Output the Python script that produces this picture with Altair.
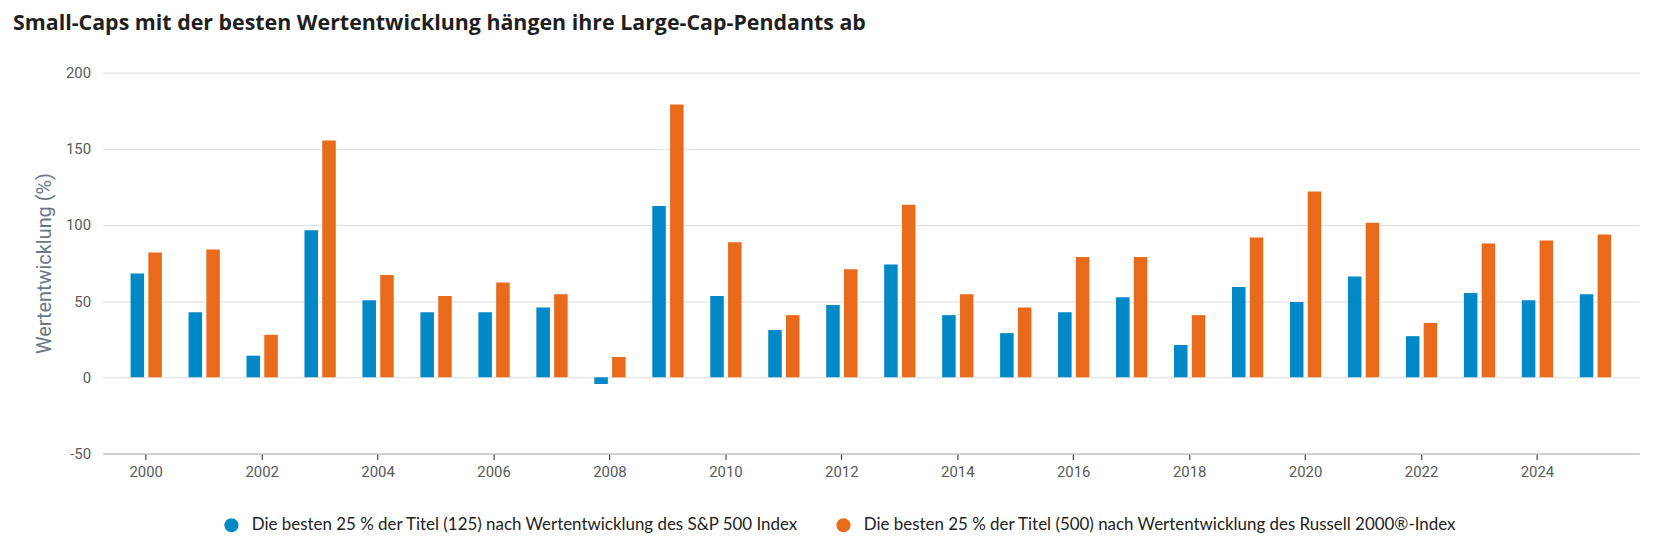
import altair as alt
import pandas as pd

years = list(range(2000, 2026))
sp500 = [68.2, 42.7, 14.2, 96.5, 50.6, 42.7, 42.7, 45.8, -4.4, 112.4, 53.4, 31.0, 47.5,
         74.1, 40.8, 29.0, 42.7, 52.5, 21.2, 59.3, 49.5, 66.2, 27.0, 55.4, 50.6, 54.5]
russell = [82.0, 83.9, 27.9, 155.4, 67.1, 53.4, 62.3, 54.5, 13.3, 179.1, 88.7, 40.8, 71.0,
           113.3, 54.5, 45.8, 78.9, 78.9, 40.8, 91.8, 122.0, 101.5, 35.7, 87.8, 89.8, 93.7]
series_names = [
    "Die besten 25 % der Titel (125) nach Wertentwicklung des S&P 500 Index",
    "Die besten 25 % der Titel (500) nach Wertentwicklung des Russell 2000®-Index",
]
colors = ["#0088c7", "#ea6a1b"]
tick_years = list(range(2000, 2025, 2))
y_ticks = [-50, 0, 50, 100, 150, 200]
title_text = "Small-Caps mit der besten Wertentwicklung hängen ihre Large-Cap-Pendants ab"
y_title = "Wertentwicklung (%)"

rows = []
for i, yr in enumerate(years):
    rows.append({"Jahr": yr, "Serie": series_names[0], "Wert": sp500[i]})
    rows.append({"Jahr": yr, "Serie": series_names[1], "Wert": russell[i]})
df = pd.DataFrame(rows)

W, H = 1544, 382.6

chart = alt.Chart(df).mark_bar().encode(
    x=alt.X(
        "Jahr:O",
        scale=alt.Scale(paddingInner=0.46, paddingOuter=0.4835),
        axis=alt.Axis(
            values=tick_years, labelAngle=0, title=None, grid=False,
            domainColor="#c4c4c4", domainWidth=1.5,
            tickColor="#444444", tickSize=6, tickWidth=1.2,
            labelFont="Roboto", labelFontSize=15, labelColor="#5a5a5a", labelPadding=5,
        ),
    ),
    xOffset=alt.XOffset("Serie:N", sort=series_names,
                        scale=alt.Scale(paddingInner=0.24, paddingOuter=0)),
    y=alt.Y(
        "Wert:Q",
        scale=alt.Scale(domain=[-50, 200], nice=False),
        axis=alt.Axis(
            values=y_ticks, title=y_title, domain=False, ticks=False,
            labelExpr="'' + datum.value",
            grid=True, gridColor="#dedede", gridWidth=1,
            labelFont="Roboto", labelFontSize=15, labelColor="#5a5a5a", labelPadding=12,
            titleFont="Roboto", titleFontSize=20, titleFontWeight="normal",
            titleColor="#6a7886", titleX=-58, titleY=H / 2, titleAngle=270,
            titleAlign="center", titleBaseline="middle",
        ),
    ),
    color=alt.Color(
        "Serie:N",
        scale=alt.Scale(domain=series_names, range=colors),
        legend=alt.Legend(
            title=None, orient="none", legendX=121, legendY=446, direction="horizontal",
            symbolType="circle", symbolSize=200, symbolStrokeWidth=0,
            labelFont="Lato", labelFontSize=17, labelColor="#222222",
            labelLimit=1000, columnPadding=36, labelOffset=12,
        ),
    ),
).properties(
    width=W,
    height=H,
    title=alt.TitleParams(
        title_text, anchor="start", frame="group", font="Open Sans", fontSize=21.5,
        fontWeight="bold", color="#1f1f1f", dx=-90, offset=31,
    ),
    autosize=alt.AutoSizeParams(type="none"),
    padding={"left": 95, "top": 63.7, "right": 27, "bottom": 85},
).configure_view(stroke=None)

chart.save("out.html", embed_options={"renderer": "svg", "actions": False})
